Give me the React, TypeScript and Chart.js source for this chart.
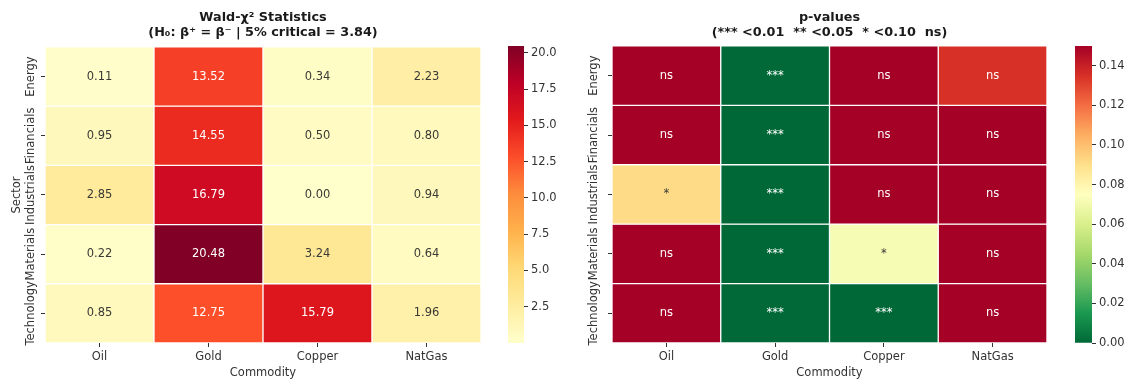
import React, { useEffect, useRef } from 'react';
import { Chart, registerables } from 'chart.js';

Chart.register(...registerables);

// ---- data ----
const commodities = ['Oil', 'Gold', 'Copper', 'NatGas'];
const sectors = ['Energy', 'Financials', 'Industrials', 'Materials', 'Technology'];

// Wald chi-square statistics (rows = sectors, columns = commodities)
const waldEnergy = [0.11, 13.52, 0.34, 2.23];
const waldFinancials = [0.95, 14.55, 0.5, 0.8];
const waldIndustrials = [2.85, 16.79, 0.0, 0.94];
const waldMaterials = [0.22, 20.48, 3.24, 0.64];
const waldTechnology = [0.85, 12.75, 15.79, 1.96];

// p-values of the same tests (chi-square, 1 d.f.)
const pEnergy = [0.74, 0.00024, 0.56, 0.135];
const pFinancials = [0.33, 0.00014, 0.48, 0.371];
const pIndustrials = [0.0914, 0.00004, 1.0, 0.332];
const pMaterials = [0.639, 0.000006, 0.0719, 0.424];
const pTechnology = [0.357, 0.00036, 0.00007, 0.162];

const waldRange = [0, 20.48];
const pRange = [0, 0.15];
const waldTicks = [2.5, 5.0, 7.5, 10.0, 12.5, 15.0, 17.5, 20.0];
const pTicks = [0.0, 0.02, 0.04, 0.06, 0.08, 0.1, 0.12, 0.14];

const waldTitle = ['Wald-χ² Statistics', '(H₀: β⁺ = β⁻ | 5% critical = 3.84)'];
const pTitle = ['p-values', '(*** <0.01  ** <0.05  * <0.10  ns)'];

// ---- styling helpers ----
const FONT = 'DejaVu Sans';
const TEXT = '#333333';
const FS = 11.5;
const H = 381;

const YLORRD = ['#ffffcc', '#ffeda0', '#fed976', '#feb24c', '#fd8d3c', '#fc4e2a', '#e31a1c', '#bd0026', '#800026'];
const RDYLGN_R = ['#006837', '#1a9850', '#66bd63', '#a6d96a', '#d9ef8b', '#ffffbf', '#fee08b', '#fdae61', '#f46d43', '#d73027', '#a50026'];

function hexToRgb(h: string) {
  return [parseInt(h.slice(1, 3), 16), parseInt(h.slice(3, 5), 16), parseInt(h.slice(5, 7), 16)];
}

function sampleRgb(cmap: string[], t: number) {
  const c = Math.min(1, Math.max(0, t)) * (cmap.length - 1);
  const i = Math.min(cmap.length - 2, Math.floor(c));
  const f = c - i;
  const a = hexToRgb(cmap[i]);
  const b = hexToRgb(cmap[i + 1]);
  return a.map((v, k) => Math.round(v + (b[k] - v) * f));
}

function cellColor(cmap: string[], range: number[], v: number) {
  const [r, g, b] = sampleRgb(cmap, (v - range[0]) / (range[1] - range[0]));
  return `rgb(${r},${g},${b})`;
}

function textColorFor(cmap: string[], range: number[], v: number) {
  const lin = sampleRgb(cmap, (v - range[0]) / (range[1] - range[0])).map((c) => {
    const s = c / 255;
    return s <= 0.03928 ? s / 12.92 : Math.pow((s + 0.055) / 1.055, 2.4);
  });
  const lum = 0.2126 * lin[0] + 0.7152 * lin[1] + 0.0722 * lin[2];
  return lum > 0.408 ? '#3a3a36' : '#ffffff';
}

function stars(p: number) {
  if (p < 0.01) return '***';
  if (p < 0.05) return '**';
  if (p < 0.1) return '*';
  return 'ns';
}

type HeatOpts = {
  rows: number[][];
  cmap: string[];
  range: number[];
  title: string[];
  titlePadBottom: number;
  yTitle: string | null;
  axisWidth: number;
  padRight: number;
  labelGap: number;
  annotate: (v: number) => string;
};

function heatmapConfig(o: HeatOpts): any {
  const tickGrid = {
    display: true,
    drawOnChartArea: false,
    drawTicks: true,
    tickLength: 4,
    color: TEXT,
    lineWidth: 1,
    offset: false,
  };

  const cellLabels = {
    id: 'cellLabels',
    afterDatasetsDraw(chart: any) {
      const ctx = chart.ctx;
      ctx.save();
      ctx.font = `${FS}px "${FONT}"`;
      ctx.textAlign = 'center';
      ctx.textBaseline = 'middle';
      o.rows.forEach((row, r) => {
        const meta = chart.getDatasetMeta(r);
        meta.data.forEach((bar: any, c: number) => {
          const v = row[c];
          ctx.fillStyle = textColorFor(o.cmap, o.range, v);
          ctx.fillText(o.annotate(v), bar.x, (bar.y + bar.base) / 2);
        });
      });
      ctx.restore();
    },
  };

  const sectorLabels = {
    id: 'sectorLabels',
    afterDraw(chart: any) {
      const ctx = chart.ctx;
      const y = chart.scales.y;
      ctx.save();
      ctx.font = `${FS}px "${FONT}"`;
      ctx.fillStyle = TEXT;
      ctx.textAlign = 'center';
      ctx.textBaseline = 'middle';
      sectors.forEach((s, i) => {
        ctx.save();
        ctx.translate(chart.chartArea.left - o.labelGap, y.getPixelForValue(i + 0.5));
        ctx.rotate(-Math.PI / 2);
        ctx.fillText(s, 0, 0);
        ctx.restore();
      });
      ctx.restore();
    },
  };

  return {
    type: 'bar',
    data: {
      labels: commodities,
      datasets: o.rows.map((row, r) => ({
        label: sectors[r],
        data: row.map(() => [r, r + 1]),
        backgroundColor: row.map((v) => cellColor(o.cmap, o.range, v)),
        borderColor: '#ffffff',
        borderWidth: 1,
        borderSkipped: false,
        grouped: false,
        barPercentage: 1,
        categoryPercentage: 1,
      })),
    },
    options: {
      responsive: false,
      animation: false,
      events: [],
      layout: { padding: { left: 0, top: 0, bottom: 0, right: o.padRight } },
      plugins: {
        legend: { display: false },
        tooltip: { enabled: false },
        title: {
          display: true,
          text: o.title,
          fullSize: false,
          color: '#1a1a1a',
          font: { family: FONT, size: 12.8, weight: 'bold', lineHeight: 1.17 },
          padding: { top: 10, bottom: o.titlePadBottom },
        },
      },
      scales: {
        x: {
          type: 'category',
          offset: true,
          grid: tickGrid,
          border: { display: false },
          ticks: { color: TEXT, font: { family: FONT, size: FS }, padding: 3, maxRotation: 0 },
          title: {
            display: true,
            text: 'Commodity',
            color: TEXT,
            font: { family: FONT, size: FS },
            padding: { top: 0, bottom: 1 },
          },
          afterFit: (s: any) => {
            s.height = 38;
          },
        },
        y: {
          type: 'linear',
          min: 0,
          max: 5,
          reverse: true,
          afterBuildTicks: (s: any) => {
            s.ticks = sectors.map((_, i) => ({ value: i + 0.5 }));
          },
          grid: tickGrid,
          border: { display: false },
          ticks: { display: false },
          title: {
            display: !!o.yTitle,
            text: o.yTitle || '',
            color: TEXT,
            font: { family: FONT, size: FS },
            padding: { top: 10, bottom: 0 },
          },
          afterFit: (s: any) => {
            s.width = o.axisWidth;
          },
        },
      },
    },
    plugins: [cellLabels, sectorLabels],
  };
}

type BarOpts = {
  cmap: string[];
  range: number[];
  ticks: number[];
  decimals: number;
  axisWidth: number;
};

function colorbarConfig(o: BarOpts): any {
  return {
    type: 'bar',
    data: {
      labels: [''],
      datasets: [
        {
          data: [[o.range[0], o.range[1]]],
          backgroundColor: (c: any) => {
            const area = c.chart.chartArea;
            if (!area) return 'transparent';
            const g = c.chart.ctx.createLinearGradient(0, area.bottom, 0, area.top);
            o.cmap.forEach((col, i) => g.addColorStop(i / (o.cmap.length - 1), col));
            return g;
          },
          borderWidth: 0,
          barPercentage: 1,
          categoryPercentage: 1,
        },
      ],
    },
    options: {
      responsive: false,
      animation: false,
      events: [],
      layout: { padding: { left: 8, top: 46, bottom: 38, right: 0 } },
      plugins: { legend: { display: false }, tooltip: { enabled: false }, title: { display: false } },
      scales: {
        x: { display: false },
        y: {
          position: 'right',
          min: o.range[0],
          max: o.range[1],
          afterBuildTicks: (s: any) => {
            s.ticks = o.ticks.map((v) => ({ value: v }));
          },
          ticks: {
            color: TEXT,
            font: { family: FONT, size: FS },
            padding: 3,
            callback: (v: any) => Number(v).toFixed(o.decimals),
          },
          grid: { display: true, drawOnChartArea: false, drawTicks: true, tickLength: 4, color: TEXT },
          border: { display: false },
          afterFit: (s: any) => {
            s.width = o.axisWidth;
          },
        },
      },
    },
  };
}

function ChartCanvas({ make, left, width }: { make: () => any; left: number; width: number }) {
  const ref = useRef<HTMLCanvasElement>(null);
  useEffect(() => {
    const chart = new Chart(ref.current as HTMLCanvasElement, make());
    return () => chart.destroy();
  }, []);
  return (
    <canvas
      ref={ref}
      width={width}
      height={H}
      style={{ position: 'absolute', left, top: 0, width, height: H }}
    />
  );
}

export default function App() {
  const waldRows = [waldEnergy, waldFinancials, waldIndustrials, waldMaterials, waldTechnology];
  const pRows = [pEnergy, pFinancials, pIndustrials, pMaterials, pTechnology];

  return (
    <div style={{ position: 'absolute', left: 0, top: 0, width: 1132, height: H, background: '#ffffff', overflow: 'hidden' }}>
      <ChartCanvas
        left={0}
        width={560}
        make={() =>
          heatmapConfig({
            rows: waldRows,
            cmap: YLORRD,
            range: waldRange,
            title: waldTitle,
            titlePadBottom: 7,
            yTitle: 'Sector',
            axisWidth: 45,
            padRight: 79,
            labelGap: 13.5,
            annotate: (v) => v.toFixed(2),
          })
        }
      />
      <ChartCanvas
        left={500}
        width={60}
        make={() => colorbarConfig({ cmap: YLORRD, range: waldRange, ticks: waldTicks, decimals: 1, axisWidth: 36 })}
      />
      <ChartCanvas
        left={560}
        width={572}
        make={() =>
          heatmapConfig({
            rows: pRows,
            cmap: RDYLGN_R,
            range: pRange,
            title: pTitle,
            titlePadBottom: 6,
            yTitle: null,
            axisWidth: 52,
            padRight: 85,
            labelGap: 18,
            annotate: stars,
          })
        }
      />
      <ChartCanvas
        left={1067}
        width={65}
        make={() => colorbarConfig({ cmap: RDYLGN_R, range: pRange, ticks: pTicks, decimals: 2, axisWidth: 40 })}
      />
    </div>
  );
}
